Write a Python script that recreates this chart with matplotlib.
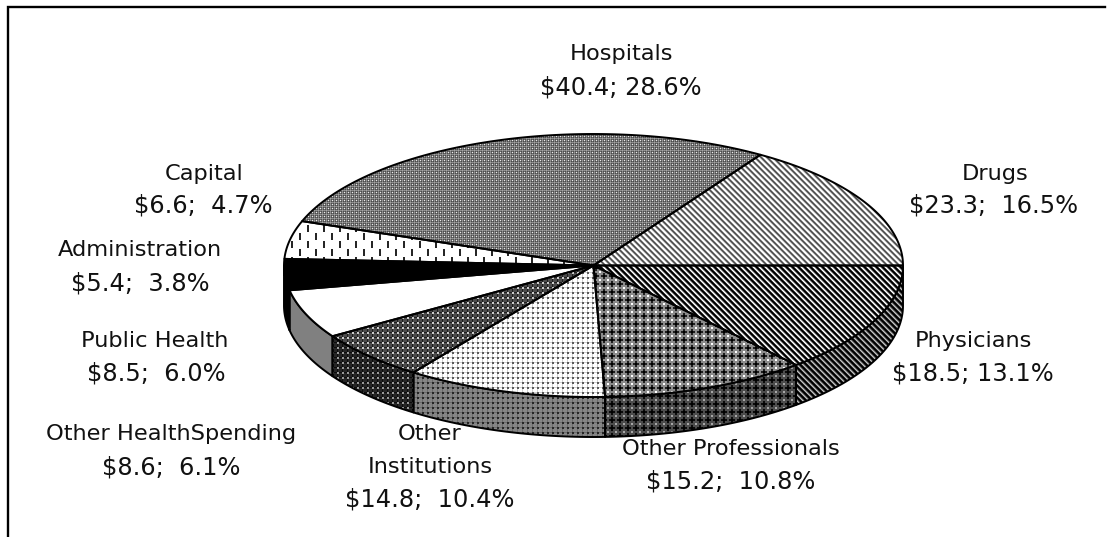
import numpy as np
import matplotlib
matplotlib.use("Agg")
import matplotlib.pyplot as plt
from matplotlib.patches import PathPatch
from matplotlib.path import Path

# ---- data (clockwise from the east edge of the pie) ----
categories = ["Physicians", "Other Professionals", "Other Institutions", "Other Health Spending",
              "Public Health", "Administration", "Capital", "Hospitals", "Drugs"]
dollars = [18.5, 15.2, 14.8, 8.6, 8.5, 5.4, 6.6, 40.4, 23.3]

label_lines = [
    ["Physicians", "$18.5; 13.1%"],
    ["Other Professionals", "$15.2;  10.8%"],
    ["Other", "Institutions", "$14.8;  10.4%"],
    ["Other HealthSpending", "$8.6;  6.1%"],
    ["Public Health", "$8.5;  6.0%"],
    ["Administration", "$5.4;  3.8%"],
    ["Capital", "$6.6;  4.7%"],
    ["Hospitals", "$40.4; 28.6%"],
    ["Drugs", "$23.3;  16.5%"],
]
label_x = [[973, 973], [731, 731], [430, 430, 430], [171, 171], [155, 156],
           [140, 140], [204, 203], [621, 621], [995, 994]]
label_y = [[341, 373], [449, 481], [434, 467, 500], [434, 468], [341, 374],
           [250, 284], [174, 206], [54, 88], [174, 206]]

# ---- geometry in pixels ----
W, H = 1111, 537
CX, CY, RX, RY, DEPTH = 593.5, 265.5, 309.5, 131.5, 40
SKEW = 2.0   # the source's perspective pushes interior edges about 2 degrees clockwise


def diag(vals):
    n = len(vals)
    return np.array([[vals[(x - y) % n] for x in range(n)] for y in range(n)], float)


def cross(bg, arm, centre, corner):
    t = np.full((8, 8), bg, float)
    t[1:7, 3:5] = arm
    t[3:5, 1:7] = arm
    t[3:5, 3:5] = centre
    t[0, 0] = t[0, 7] = t[7, 0] = t[7, 7] = corner
    return t


def dots(bg, line, spot):
    t = np.full((5, 5), bg, float)
    t[:, 2] = line
    t[2, :] = line
    t[2:4, 2:4] = spot
    return t


def dashes():
    t = np.ones((16, 16))
    t[1:8, 3:5] = 0.15
    t[9:16, 11:13] = 0.15
    return t


hosp = np.array([[0.92, 0.42, 0.58, 0.42],
                 [0.42, 0.30, 0.52, 0.30],
                 [0.58, 0.52, 0.65, 0.52],
                 [0.42, 0.30, 0.52, 0.30]])
solid = lambda v: np.array([[v]], float)

top_tiles = [
    diag([1, 0.8, 0.3, 0, 0, 0.3]),
    cross(0.55, 0.12, 0.0, 1.0),
    dots(1.0, 0.82, 0.35),
    dots(0.30, 0.12, 0.8),
    solid(1.0),
    solid(0.0),
    dashes(),
    hosp,
    diag([1, 1, 0.8, 0.4, 0.3, 0.6]),
]
side_tiles = [
    diag([0.75, 0.55, 0.2, 0, 0, 0.2]),
    cross(0.30, 0.04, 0.0, 0.65),
    dots(0.52, 0.42, 0.15),
    dots(0.15, 0.05, 0.6),
    solid(0.5),
    solid(0.0),
    solid(1.0),
    solid(0.5),
    solid(0.5),
]

fig = plt.figure(figsize=(W / 100, H / 100), dpi=100, facecolor="white")
ax = fig.add_axes([0, 0, 1, 1])
ax.set_axis_off()
ax.set_xlim(0, W)
ax.set_ylim(H, 0)
ax.set_autoscale_on(False)

LW = 1.4


def arc(a0, a1, dy=0.0, n=None):
    n = n or max(int(abs(a1 - a0)) * 2, 2)
    t = np.radians(np.linspace(a0, a1, n))
    return np.column_stack([CX + RX * np.cos(t), CY + RY * np.sin(t) + dy])


def textured(verts, tile, z):
    verts = np.vstack([verts, verts[0]])
    codes = [Path.MOVETO] + [Path.LINETO] * (len(verts) - 2) + [Path.CLOSEPOLY]
    patch = PathPatch(Path(verts, codes), facecolor="none", edgecolor="black",
                      linewidth=LW, joinstyle="round", zorder=z + 0.5)
    ax.add_patch(patch)
    ny = H // tile.shape[0] + 1
    nx = W // tile.shape[1] + 1
    img = np.tile(tile, (ny, nx))[:H, :W]
    im = ax.imshow(img, cmap="gray", vmin=0, vmax=1, extent=(0, W, H, 0),
                   interpolation="nearest", aspect="auto", zorder=z)
    im.set_clip_path(patch)


vals = np.array(dollars)
edges = 360 * np.concatenate([[0], np.cumsum(vals)]) / vals.sum()
edges[1:-1] += SKEW

# sides (only the front half of the disc shows)
for i, (a0, a1) in enumerate(zip(edges[:-1], edges[1:])):
    b1 = min(a1, 180)
    if a0 < 180:
        front = arc(a0, b1)
        back = arc(b1, a0, dy=DEPTH)
        textured(np.vstack([front, back]), side_tiles[i], 2 + i * 0.01)

# top faces
for i, (a0, a1) in enumerate(zip(edges[:-1], edges[1:])):
    textured(np.vstack([[CX, CY], arc(a0, a1)]), top_tiles[i], 4 + i * 0.01)

# labels: the value rows are letter-spaced in the source, so they run a little larger
for lines, xs, ys in zip(label_lines, label_x, label_y):
    for s, x, y in zip(lines, xs, ys):
        ax.text(x, y, s, ha="center", va="center", fontsize=17.4 if "$" in s else 16.2,
                color="#111111", family="DejaVu Sans", zorder=10)

# frame (top and left rules only)
ax.plot([7.5, 7.5, 1105], [H, 7, 7], color="black", lw=1.7, solid_joinstyle="miter", zorder=11)

fig.savefig("out.png", dpi=100, facecolor="white")
